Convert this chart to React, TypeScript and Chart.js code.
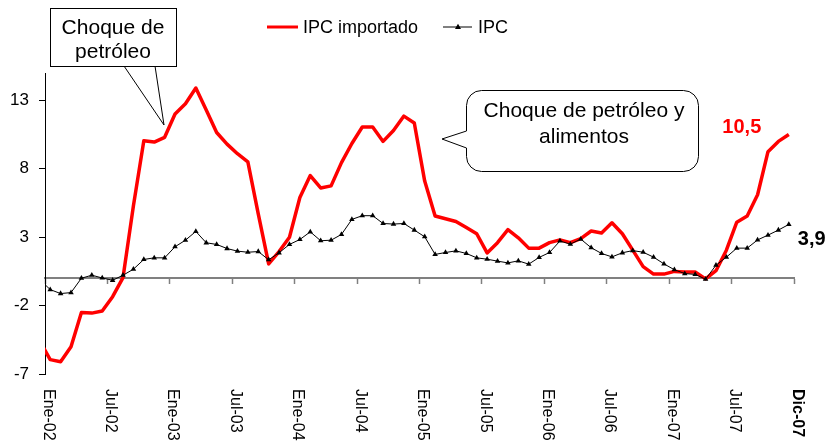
import React, { useEffect, useRef } from 'react';
import { Chart, registerables } from 'chart.js';

Chart.register(...registerables);

const FONT = "'Liberation Sans', Arial, Helvetica, sans-serif";

const MES = ['Ene', 'Feb', 'Mar', 'Abr', 'May', 'Jun', 'Jul', 'Ago', 'Sep', 'Oct', 'Nov', 'Dic'];
const YEARS = ['02', '03', '04', '05', '06', '07'];
// Dic-01 is a lead-in month that sits just left of the plot (clipped)
const months: string[] = ['Dic-01', ...YEARS.flatMap((y) => MES.map((m) => `${m}-${y}`))];

const xTickLabels = ['Ene-02', 'Jul-02', 'Ene-03', 'Jul-03', 'Ene-04', 'Jul-04', 'Ene-05', 'Jul-05', 'Ene-06', 'Jul-06', 'Ene-07', 'Jul-07', 'Dic-07'];
const yTicks = [-7, -2, 3, 8, 13];

const ipcImportado = [
  -4.6,
  -5.95, -6.1, -5.0, -2.5, -2.55, -2.4, -1.35, 0.05, 5.3, 10.05, 9.95, 10.3,
  12.0, 12.75, 13.9, 12.3, 10.65, 9.8, 9.1, 8.5, 4.7, 1.05, 1.95, 3.0,
  5.9, 7.5, 6.6, 6.75, 8.45, 9.85, 11.05, 11.05, 10.0, 10.8, 11.85, 11.35,
  7.1, 4.55, 4.35, 4.15, 3.7, 3.25, 1.85, 2.6, 3.55, 2.95, 2.2, 2.2,
  2.6, 2.8, 2.6, 2.9, 3.45, 3.3, 4.05, 3.25, 2.05, 0.85, 0.3, 0.3,
  0.5, 0.45, 0.45, -0.05, 0.55, 2.05, 4.1, 4.55, 6.1, 9.25, 10.0, 10.5,
];

const ipc = [
  -0.1,
  -0.83, -1.12, -1.05, 0.0, 0.22, 0.02, -0.15, 0.22, 0.66, 1.37, 1.49, 1.49,
  2.3, 2.78, 3.42, 2.59, 2.47, 2.17, 1.98, 1.9, 1.95, 1.35, 1.86, 2.47,
  2.83, 3.39, 2.74, 2.78, 3.2, 4.3, 4.57, 4.57, 4.0, 3.96, 4.0, 3.52,
  3.03, 1.74, 1.88, 2.0, 1.81, 1.49, 1.39, 1.25, 1.12, 1.27, 1.03, 1.52,
  1.88, 2.72, 2.49, 2.86, 2.23, 1.81, 1.56, 1.86, 2.02, 1.9, 1.54, 1.05,
  0.62, 0.34, 0.28, -0.07, 0.95, 1.54, 2.2, 2.2, 2.8, 3.15, 3.52, 3.93,
];

const seriesNames = ['IPC importado', 'IPC'];
const callout1 = ['Choque de', 'petróleo'];
const callout2 = ['Choque de petróleo y', 'alimentos'];

const RED = '#FF0000';

function fmt(v: number) {
  return v.toFixed(1).replace('.', ',');
}

function triangle(ctx: CanvasRenderingContext2D, x: number, y: number, r: number) {
  ctx.beginPath();
  ctx.moveTo(x, y - r);
  ctx.lineTo(x + r * 0.95, y + r * 0.6);
  ctx.lineTo(x - r * 0.95, y + r * 0.6);
  ctx.closePath();
  ctx.fill();
}

const overlay = {
  id: 'overlay',
  afterDraw(chart: any) {
    const ctx: CanvasRenderingContext2D = chart.ctx;
    const xs = chart.scales.x;
    const ys = chart.scales.y;
    ctx.save();

    // x tick labels (rotated, reading top to bottom) at the tick marks
    const step = xs.getPixelForValue(2) - xs.getPixelForValue(1);
    xTickLabels.forEach((lab, k) => {
      const px = xs.getPixelForValue(1 + k * 6) - step / 2;
      ctx.save();
      ctx.translate(px + 3, 389);
      ctx.rotate(Math.PI / 2);
      ctx.fillStyle = '#000';
      ctx.font = `${k === xTickLabels.length - 1 ? 'bold ' : ''}16px ${FONT}`;
      ctx.textAlign = 'left';
      ctx.textBaseline = 'middle';
      ctx.fillText(lab, 0, 0);
      ctx.restore();
    });

    // legend
    ctx.strokeStyle = RED;
    ctx.lineWidth = 3;
    ctx.beginPath();
    ctx.moveTo(267, 27);
    ctx.lineTo(298, 27);
    ctx.stroke();
    ctx.fillStyle = '#000';
    ctx.font = `18px ${FONT}`;
    ctx.textAlign = 'left';
    ctx.textBaseline = 'alphabetic';
    ctx.fillText(seriesNames[0], 303, 33);
    ctx.strokeStyle = '#000';
    ctx.lineWidth = 1;
    ctx.beginPath();
    ctx.moveTo(443, 27);
    ctx.lineTo(472, 27);
    ctx.stroke();
    triangle(ctx, 458, 27, 3.2);
    ctx.fillText(seriesNames[1], 478, 33);

    // callout 1
    ctx.fillStyle = '#fff';
    ctx.strokeStyle = '#000';
    ctx.lineWidth = 1;
    ctx.beginPath();
    ctx.moveTo(124, 66);
    ctx.lineTo(164, 125);
    ctx.lineTo(155, 66);
    ctx.closePath();
    ctx.fill();
    ctx.beginPath();
    ctx.moveTo(124, 66);
    ctx.lineTo(164, 125);
    ctx.lineTo(155, 66);
    ctx.stroke();
    ctx.fillRect(50.5, 8.5, 126, 58);
    ctx.strokeRect(50.5, 8.5, 126, 58);
    ctx.fillStyle = '#000';
    ctx.font = `21px ${FONT}`;
    ctx.textAlign = 'center';
    ctx.fillText(callout1[0], 113, 34);
    ctx.fillText(callout1[1], 113, 58);

    // callout 2 (rounded)
    const L = 466.5, T = 90.5, R = 698.5, B = 171.5, r = 15;
    ctx.beginPath();
    ctx.moveTo(L + r, T);
    ctx.lineTo(R - r, T);
    ctx.arcTo(R, T, R, T + r, r);
    ctx.lineTo(R, B - r);
    ctx.arcTo(R, B, R - r, B, r);
    ctx.lineTo(L + r, B);
    ctx.arcTo(L, B, L, B - r, r);
    ctx.lineTo(L, 148);
    ctx.lineTo(442, 139);
    ctx.lineTo(L, 131);
    ctx.lineTo(L, T + r);
    ctx.arcTo(L, T, L + r, T, r);
    ctx.closePath();
    ctx.fillStyle = '#fff';
    ctx.fill();
    ctx.stroke();
    ctx.fillStyle = '#000';
    ctx.font = `21px ${FONT}`;
    ctx.textAlign = 'center';
    ctx.fillText(callout2[0], 584, 117);
    ctx.fillText(callout2[1], 584, 143);

    // end value labels
    const last = months.length - 1;
    const xr = xs.getPixelForValue(last);
    ctx.font = `bold 20px ${FONT}`;
    ctx.textBaseline = 'middle';
    ctx.fillStyle = RED;
    ctx.textAlign = 'center';
    ctx.fillText(fmt(ipcImportado[last]), xr - 47, ys.getPixelForValue(ipcImportado[last]) - 7);
    ctx.fillStyle = '#000';
    ctx.textAlign = 'left';
    ctx.fillText(fmt(ipc[last]), xr + 9, ys.getPixelForValue(ipc[last]) + 15);

    ctx.restore();
  },
};

export default function App() {
  const ref = useRef<HTMLCanvasElement>(null);
  useEffect(() => {
    document.body.style.margin = '0';
    const chart = new Chart(ref.current!, {
      type: 'line',
      data: {
        labels: months,
        datasets: [
          {
            label: seriesNames[0],
            data: ipcImportado,
            borderColor: RED,
            backgroundColor: RED,
            borderWidth: 3.5,
            pointRadius: 0,
            tension: 0,
            borderJoinStyle: 'round',
            order: 1,
          },
          {
            label: seriesNames[1],
            data: ipc,
            borderColor: '#000',
            backgroundColor: '#000',
            borderWidth: 1,
            pointStyle: 'triangle',
            pointRadius: 3.2,
            pointBorderWidth: 0,
            tension: 0,
            order: 0,
          },
        ],
      },
      options: {
        responsive: false,
        animation: false,
        devicePixelRatio: 1,
        layout: { padding: { left: 0, right: 34, top: 73, bottom: 72 } },
        plugins: { legend: { display: false }, tooltip: { enabled: false } },
        scales: {
          x: {
            type: 'category',
            min: 'Ene-02',
            offset: true,
            position: { y: 0 } as any,
            afterFit: (s: any) => {
              s.height = 2;
            },
            ticks: { display: false, autoSkip: false },
            grid: {
              drawOnChartArea: false,
              drawTicks: true,
              tickLength: 5,
              offset: true,
              tickWidth: 1.5,
              tickColor: (c: any) => (c.type === 'tick' && c.index % 6 !== 0 ? 'rgba(0,0,0,0)' : '#808080'),
            },
            border: { display: true, color: '#808080', width: 2 },
          },
          y: {
            min: -7,
            max: 15,
            afterFit: (s: any) => {
              s.width = 45;
            },
            afterBuildTicks: (s: any) => {
              s.ticks = yTicks.map((v) => ({ value: v }));
            },
            ticks: { font: { family: FONT, size: 17 }, color: '#000', padding: 10 },
            grid: { drawOnChartArea: false, tickLength: 6, color: '#000' },
            border: { display: true, color: '#000', width: 1 },
          },
        },
      },
      plugins: [overlay],
    } as any);
    return () => chart.destroy();
  }, []);
  return <canvas ref={ref} width={828} height={446} style={{ display: 'block' }} />;
}
